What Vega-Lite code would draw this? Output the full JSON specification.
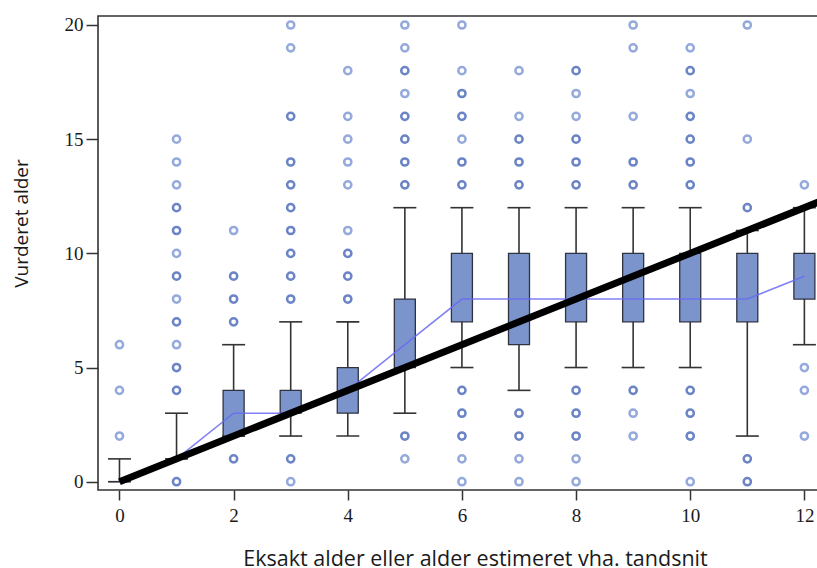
{
  "$schema": "https://vega.github.io/schema/vega-lite/v6.json",
  "width": 720,
  "height": 474,
  "autosize": {"type": "none"},
  "padding": {"left": 98, "top": 16, "right": 0, "bottom": 78},
  "background": "white",
  "config": {
    "view": {"stroke": "#333333", "strokeWidth": 1.6},
    "axis": {"domain": false, "grid": false}
  },
  "datasets": {
    "boxes": [
      {"x": 0, "lo": 0, "q1": 0, "med": 0, "q3": 0, "hi": 1},
      {"x": 1, "lo": 1, "q1": 1, "med": 1, "q3": 1, "hi": 3},
      {"x": 2, "lo": 2, "q1": 2, "med": 3, "q3": 4, "hi": 6},
      {"x": 3, "lo": 2, "q1": 3, "med": 3, "q3": 4, "hi": 7},
      {"x": 4, "lo": 2, "q1": 3, "med": 4, "q3": 5, "hi": 7},
      {"x": 5, "lo": 3, "q1": 5, "med": 6, "q3": 8, "hi": 12},
      {"x": 6, "lo": 5, "q1": 7, "med": 8, "q3": 10, "hi": 12},
      {"x": 7, "lo": 4, "q1": 6, "med": 8, "q3": 10, "hi": 12},
      {"x": 8, "lo": 5, "q1": 7, "med": 8, "q3": 10, "hi": 12},
      {"x": 9, "lo": 5, "q1": 7, "med": 8, "q3": 10, "hi": 12},
      {"x": 10, "lo": 5, "q1": 7, "med": 8, "q3": 10, "hi": 12},
      {"x": 11, "lo": 2, "q1": 7, "med": 8, "q3": 10, "hi": 11},
      {"x": 12, "lo": 6, "q1": 8, "med": 9, "q3": 10, "hi": 12}
    ],
    "outliers": [
      {"x": 0, "y": 2, "n": 1}, {"x": 0, "y": 4, "n": 1}, {"x": 0, "y": 6, "n": 1},
      {"x": 1, "y": 0, "n": 2}, {"x": 1, "y": 4, "n": 2}, {"x": 1, "y": 5, "n": 2}, {"x": 1, "y": 6, "n": 1}, {"x": 1, "y": 7, "n": 2}, {"x": 1, "y": 8, "n": 1}, {"x": 1, "y": 9, "n": 2}, {"x": 1, "y": 10, "n": 1}, {"x": 1, "y": 11, "n": 2}, {"x": 1, "y": 12, "n": 2}, {"x": 1, "y": 13, "n": 1}, {"x": 1, "y": 14, "n": 1}, {"x": 1, "y": 15, "n": 1},
      {"x": 2, "y": 1, "n": 2}, {"x": 2, "y": 7, "n": 2}, {"x": 2, "y": 8, "n": 2}, {"x": 2, "y": 9, "n": 2}, {"x": 2, "y": 11, "n": 1},
      {"x": 3, "y": 0, "n": 1}, {"x": 3, "y": 1, "n": 2}, {"x": 3, "y": 8, "n": 2}, {"x": 3, "y": 9, "n": 2}, {"x": 3, "y": 10, "n": 2}, {"x": 3, "y": 11, "n": 2}, {"x": 3, "y": 12, "n": 2}, {"x": 3, "y": 13, "n": 2}, {"x": 3, "y": 14, "n": 2}, {"x": 3, "y": 16, "n": 2}, {"x": 3, "y": 19, "n": 1}, {"x": 3, "y": 20, "n": 1},
      {"x": 4, "y": 8, "n": 2}, {"x": 4, "y": 9, "n": 2}, {"x": 4, "y": 10, "n": 2}, {"x": 4, "y": 11, "n": 1}, {"x": 4, "y": 13, "n": 1}, {"x": 4, "y": 14, "n": 1}, {"x": 4, "y": 15, "n": 1}, {"x": 4, "y": 16, "n": 1}, {"x": 4, "y": 18, "n": 1},
      {"x": 5, "y": 1, "n": 1}, {"x": 5, "y": 2, "n": 2}, {"x": 5, "y": 13, "n": 2}, {"x": 5, "y": 14, "n": 2}, {"x": 5, "y": 15, "n": 2}, {"x": 5, "y": 16, "n": 2}, {"x": 5, "y": 17, "n": 1}, {"x": 5, "y": 18, "n": 2}, {"x": 5, "y": 19, "n": 1}, {"x": 5, "y": 20, "n": 1},
      {"x": 6, "y": 0, "n": 1}, {"x": 6, "y": 1, "n": 1}, {"x": 6, "y": 2, "n": 2}, {"x": 6, "y": 3, "n": 2}, {"x": 6, "y": 4, "n": 2}, {"x": 6, "y": 13, "n": 2}, {"x": 6, "y": 14, "n": 2}, {"x": 6, "y": 15, "n": 1}, {"x": 6, "y": 16, "n": 2}, {"x": 6, "y": 17, "n": 2}, {"x": 6, "y": 18, "n": 1}, {"x": 6, "y": 20, "n": 1},
      {"x": 7, "y": 0, "n": 1}, {"x": 7, "y": 1, "n": 1}, {"x": 7, "y": 2, "n": 2}, {"x": 7, "y": 3, "n": 2}, {"x": 7, "y": 13, "n": 2}, {"x": 7, "y": 14, "n": 2}, {"x": 7, "y": 15, "n": 2}, {"x": 7, "y": 16, "n": 1}, {"x": 7, "y": 18, "n": 1},
      {"x": 8, "y": 0, "n": 1}, {"x": 8, "y": 1, "n": 1}, {"x": 8, "y": 2, "n": 2}, {"x": 8, "y": 3, "n": 2}, {"x": 8, "y": 4, "n": 2}, {"x": 8, "y": 13, "n": 2}, {"x": 8, "y": 14, "n": 2}, {"x": 8, "y": 15, "n": 2}, {"x": 8, "y": 16, "n": 1}, {"x": 8, "y": 17, "n": 1}, {"x": 8, "y": 18, "n": 2},
      {"x": 9, "y": 2, "n": 1}, {"x": 9, "y": 3, "n": 1}, {"x": 9, "y": 4, "n": 2}, {"x": 9, "y": 13, "n": 2}, {"x": 9, "y": 14, "n": 2}, {"x": 9, "y": 16, "n": 1}, {"x": 9, "y": 19, "n": 1}, {"x": 9, "y": 20, "n": 1},
      {"x": 10, "y": 0, "n": 1}, {"x": 10, "y": 2, "n": 2}, {"x": 10, "y": 3, "n": 2}, {"x": 10, "y": 4, "n": 2}, {"x": 10, "y": 13, "n": 2}, {"x": 10, "y": 14, "n": 2}, {"x": 10, "y": 15, "n": 2}, {"x": 10, "y": 16, "n": 2}, {"x": 10, "y": 17, "n": 1}, {"x": 10, "y": 18, "n": 2}, {"x": 10, "y": 19, "n": 1},
      {"x": 11, "y": 0, "n": 2}, {"x": 11, "y": 1, "n": 2}, {"x": 11, "y": 12, "n": 2}, {"x": 11, "y": 15, "n": 1}, {"x": 11, "y": 20, "n": 1},
      {"x": 12, "y": 2, "n": 1}, {"x": 12, "y": 4, "n": 1}, {"x": 12, "y": 5, "n": 1}, {"x": 12, "y": 13, "n": 1}
    ],
    "diag": [
      {"x": 0, "y": 0},
      {"x": 12.4, "y": 12.4}
    ]
  },
  "encoding": {
    "x": {
      "type": "quantitative",
      "scale": {"domain": [-0.2885, 12.151], "nice": false, "zero": false},
      "axis": {
        "values": [0, 2, 4, 6, 8, 10, 12],
        "title": "Eksakt alder eller alder estimeret vha. tandsnit",
        "titleFont": "Open Sans",
        "titleFontSize": 21.5,
        "titleFontWeight": "normal",
        "titleColor": "#1a1a1a",
        "titleX": 377,
        "titleY": 75,
        "titleBaseline": "alphabetic",
        "titleAlign": "center",
        "titleAnchor": null,
        "labelFont": "Liberation Serif",
        "labelFontSize": 19,
        "labelColor": "#1a1a1a",
        "labelPadding": 6,
        "labelFlush": false,
        "labelBound": false,
        "labelOverlap": false,
        "tickSize": 10,
        "tickWidth": 1.5,
        "tickColor": "#333333"
      }
    },
    "y": {
      "type": "quantitative",
      "scale": {"domain": [-0.363, 20.394], "nice": false, "zero": false},
      "axis": {
        "values": [0, 5, 10, 15, 20],
        "title": "Vurderet alder",
        "titleFont": "Open Sans",
        "titleFontSize": 19,
        "titleFontWeight": "normal",
        "titleColor": "#1a1a1a",
        "titleX": -71,
        "titleY": 207,
        "titleAngle": -90,
        "titleBaseline": "alphabetic",
        "titleAlign": "center",
        "titleAnchor": null,
        "labelFont": "Liberation Serif",
        "labelFontSize": 19,
        "labelColor": "#1a1a1a",
        "labelPadding": 3,
        "labelFlush": false,
        "labelBound": false,
        "tickSize": 12,
        "tickWidth": 1.5,
        "tickColor": "#333333"
      }
    }
  },
  "layer": [
    {
      "data": {"name": "outliers"},
      "mark": {"type": "point", "shape": "circle", "filled": false, "size": 52, "strokeWidth": 2.5, "opacity": 1},
      "encoding": {
        "x": {"field": "x"},
        "y": {"field": "y"},
        "color": {"field": "n", "type": "ordinal", "scale": {"domain": [1, 2], "range": ["#95aadc", "#6a84c6"]}, "legend": null}
      }
    },
    {
      "data": {"name": "boxes"},
      "mark": {"type": "rule", "color": "#333333", "strokeWidth": 1.6},
      "encoding": {
        "x": {"field": "x"},
        "y": {"field": "lo"},
        "y2": {"field": "hi"}
      }
    },
    {
      "data": {"name": "boxes"},
      "mark": {"type": "tick", "orient": "horizontal", "color": "#333333", "size": 23, "thickness": 1.6, "opacity": 1},
      "encoding": {
        "x": {"field": "x"},
        "y": {"field": "hi"}
      }
    },
    {
      "data": {"name": "boxes"},
      "mark": {"type": "tick", "orient": "horizontal", "color": "#333333", "size": 23, "thickness": 1.6, "opacity": 1},
      "encoding": {
        "x": {"field": "x"},
        "y": {"field": "lo"}
      }
    },
    {
      "data": {"name": "boxes"},
      "mark": {"type": "bar", "width": 21, "fill": "#7b95cc", "stroke": "#2f3340", "strokeWidth": 1.3},
      "encoding": {
        "x": {"field": "x"},
        "y": {"field": "q1"},
        "y2": {"field": "q3"}
      }
    },
    {
      "data": {"name": "boxes"},
      "mark": {"type": "line", "color": "#6a6af2", "strokeWidth": 1.6, "opacity": 0.85},
      "encoding": {
        "x": {"field": "x"},
        "y": {"field": "med"}
      }
    },
    {
      "data": {"name": "diag"},
      "mark": {"type": "line", "color": "#000000", "strokeWidth": 7, "clip": true},
      "encoding": {
        "x": {"field": "x"},
        "y": {"field": "y"}
      }
    }
  ]
}
